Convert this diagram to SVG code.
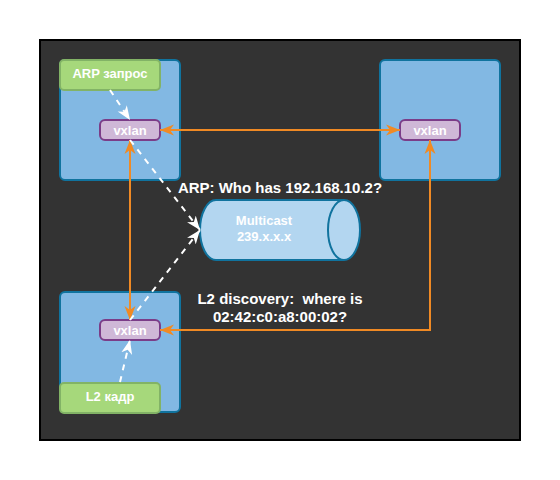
<svg xmlns="http://www.w3.org/2000/svg" width="560" height="480" viewBox="0 0 560 480">
<style>
.host{fill:#82b8e3;stroke:#10739e;stroke-width:2}
.green{fill:#a6d87b;stroke:#82b366;stroke-width:2}
.vx{fill:#cfb8d7;stroke:#7b3d88;stroke-width:2}
.t{font-family:"Liberation Sans",Arial,sans-serif;font-weight:bold;fill:#ffffff;text-anchor:middle}
.o{fill:none;stroke:#f08a24;stroke-width:2;marker-start:url(#ao);marker-end:url(#ao)}
.w{fill:none;stroke:#ffffff;stroke-width:2;stroke-dasharray:6 6;marker-end:url(#aw)}
</style>
<defs>
<marker id="ao" markerUnits="userSpaceOnUse" markerWidth="16" markerHeight="12" refX="14" refY="6" orient="auto-start-reverse" viewBox="0 0 16 12">
<path d="M14,6 L0,0.5 L4,6 L0,11.5 Z" fill="#f08a24"/>
</marker>
<marker id="aw" markerUnits="userSpaceOnUse" markerWidth="16" markerHeight="12" refX="14" refY="6" orient="auto" viewBox="0 0 16 12">
<path d="M14,6 L0,0.5 L4,6 L0,11.5 Z" fill="#ffffff"/>
</marker>
</defs>
<rect x="40" y="40" width="480" height="400" fill="#333333" stroke="#000000" stroke-width="2"/>
<g id="host1"><rect class="host" x="60" y="60" width="120" height="120" rx="5"/></g>
<g id="host2"><rect class="host" x="380" y="60" width="120" height="120" rx="5"/></g>
<g id="host3"><rect class="host" x="60" y="292" width="120" height="120" rx="5"/></g>
<g id="arp-req"><rect class="green" x="60" y="60" width="100" height="30" rx="4"/><text class="t" x="110" y="78" font-size="13">ARP запрос</text></g>
<g id="l2-frame"><rect class="green" x="60" y="383" width="100" height="30" rx="4"/><text class="t" x="110" y="401" font-size="13">L2 кадр</text></g>
<g id="vxlan1"><rect class="vx" x="100" y="120" width="60" height="20" rx="5"/><text class="t" x="130" y="135" font-size="13">vxlan</text></g>
<g id="vxlan2"><rect class="vx" x="400" y="120" width="60" height="20" rx="5"/><text class="t" x="430" y="135" font-size="13">vxlan</text></g>
<g id="vxlan3"><rect class="vx" x="100" y="320" width="60" height="20" rx="5"/><text class="t" x="130" y="335" font-size="13">vxlan</text></g>
<g id="multicast">
<path d="M216,200 L344,200 A16,30 0 0 1 344,260 L216,260 A16,30 0 0 1 216,200 Z" fill="#b3d6f0" stroke="#10739e" stroke-width="2"/>
<path d="M344,200 A16,30 0 0 0 344,260" fill="none" stroke="#10739e" stroke-width="2"/>
<text class="t" x="264" y="225" font-size="13">Multicast</text>
<text class="t" x="264" y="241" font-size="13">239.x.x.x</text>
</g>
<g id="connectors">
<path class="o" d="M160,130 L400,130"/>
<path class="o" d="M130,140 L130,320"/>
<path class="o" d="M160,330 L430,330 L430,140"/>
<path class="w" d="M110,90 L130,120"/>
<path class="w" d="M130,140 L200,230"/>
<path class="w" d="M130,320 L200,230"/>
<path class="w" d="M120,382 L130,340"/>
</g>
<g id="labels">
<text class="t" x="280" y="193" font-size="15">ARP: Who has 192.168.10.2?</text>
<text class="t" x="280" y="304" font-size="15" xml:space="preserve">L2 discovery:  where is</text>
<text class="t" x="280" y="322" font-size="15">02:42:c0:a8:00:02?</text>
</g>
</svg>
